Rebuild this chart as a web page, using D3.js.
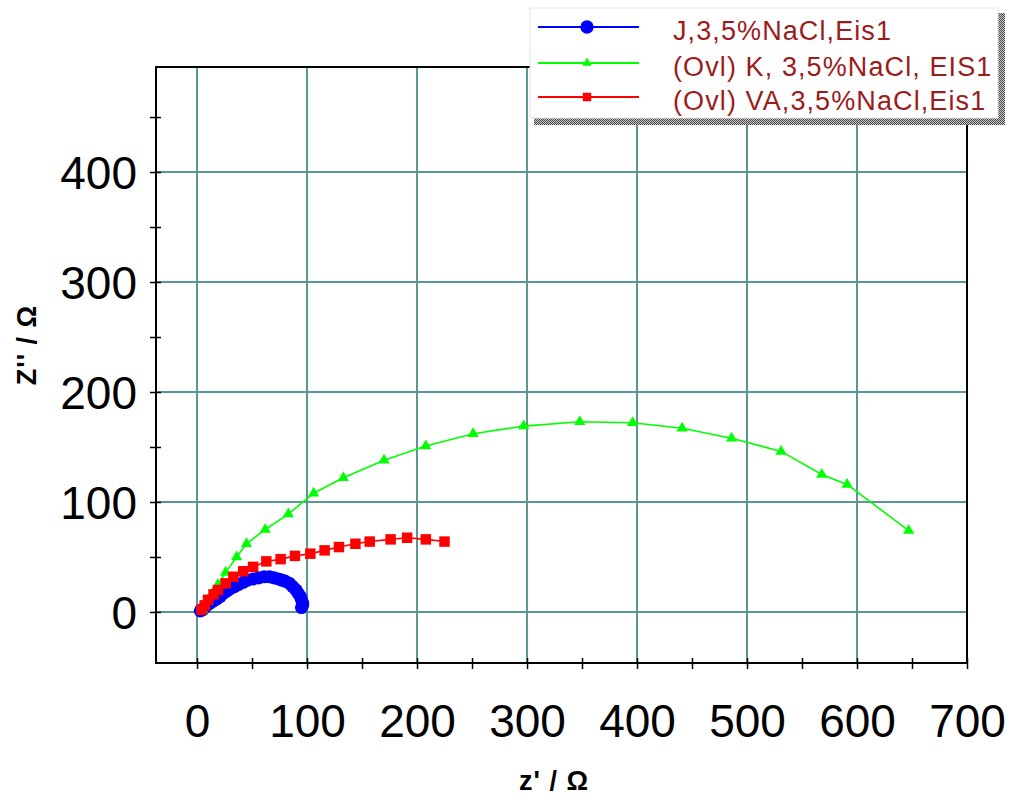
<!DOCTYPE html>
<html><head><meta charset="utf-8">
<script src="https://cdn.jsdelivr.net/npm/d3@7"></script>
<style>body{margin:0;background:#fff} svg{display:block}</style>
</head><body>
<svg id="c" width="1013" height="800"></svg>
<script>
// ---- data ----
const xTicks = [0,100,200,300,400,500,600,700];
const yTicks = [0,100,200,300,400];
const xMinor = [50,150,250,350,450,550,650];
const yMinor = [50,150,250,350,450];
const seriesNames = ["J,3,5%NaCl,Eis1", "(Ovl) K, 3,5%NaCl, EIS1", "(Ovl) VA,3,5%NaCl,Eis1"];
const seriesColors = ["#0000ff", "#00ff00", "#ff0000"];
const xTitle = "z' / \u03A9";
const yTitle = "Z'' / \u03A9";

const jX = [3,5,7,9,12,15,18,21,24,27,30,34,38,42,46,51,56,61,66,70,74,77,80,84,87,90,92,94,95,96,96,95];
const jY = [1,2,4,6,8,10,12,14,17,19,21,23,25,27,29,30,31,32,32,31,30,29,28,26,23,20,17,14,11,8,6,4];

const kX = [5,7,10,14,19,26,36,45,62,83,106,133,170,208,251,297,348,396,441,486,531,568,591,647];
const kY = [2,6,11,17,25,36,50,62,75,89,108,122,138,151,162,169,173,172,167,158,146,125,116,74];

const vaX = [4,7,10,15,19,26,33,42,51,63,76,89,103,116,129,144,157,176,191,208,225];
const vaY = [2,6,11,16,20,26,32,37,41,46,48,51,53,56,59,62,64,66,67.5,66,64];

// ---- chart ----
const svg = d3.select("#c");
const font = "'Liberation Sans', Arial, sans-serif";
const x = d3.scaleLinear().domain([-37.3, 700]).range([156, 967]);
const y = d3.scaleLinear().domain([-46.4, 495.5]).range([663, 67]);
const gridColor = "#5a9696";

// grid
svg.append("g").selectAll("line").data(xTicks.filter(d => d < 700)).join("line")
  .attr("x1", d => x(d)).attr("x2", d => x(d)).attr("y1", y.range()[0]).attr("y2", y.range()[1])
  .attr("stroke", gridColor).attr("stroke-width", 2);
svg.append("g").selectAll("line").data(yTicks).join("line")
  .attr("y1", d => y(d)).attr("y2", d => y(d)).attr("x1", x.range()[0]).attr("x2", x.range()[1])
  .attr("stroke", gridColor).attr("stroke-width", 2);

// axes
const xAxis = svg.append("g").attr("transform", `translate(0,${y.range()[0]})`)
  .call(d3.axisBottom(x).tickValues(xTicks.concat(xMinor)).tickSize(6).tickSizeOuter(0)
    .tickFormat(d => xTicks.includes(d) ? d : ""));
const yAxis = svg.append("g").attr("transform", `translate(${x.range()[0]},0)`)
  .call(d3.axisLeft(y).tickValues(yTicks.concat(yMinor)).tickSize(6).tickSizeOuter(0)
    .tickFormat(d => yTicks.includes(d) ? d : ""));
[xAxis, yAxis].forEach(a => {
  a.select(".domain").remove();
  a.selectAll(".tick line").attr("stroke", "#000").attr("stroke-width", 1.5);
  a.selectAll("text").attr("font-family", font).attr("font-size", 46).attr("fill", "#000");
});
xAxis.selectAll(".tick line").attr("y1", -5).attr("y2", 6);
xAxis.selectAll("text").attr("y", 74).attr("dy", null);
yAxis.selectAll(".tick line").attr("x1", 5).attr("x2", -6);
yAxis.selectAll("text").attr("x", -19).attr("dy", "0.36em");

// frame
svg.append("rect").attr("x", x.range()[0]).attr("y", y.range()[1])
  .attr("width", x.range()[1] - x.range()[0]).attr("height", y.range()[0] - y.range()[1])
  .attr("fill", "none").attr("stroke", "#000").attr("stroke-width", 2);

// titles
svg.append("text").attr("x", 554).attr("y", 790).attr("text-anchor", "middle")
  .attr("font-family", font).attr("font-weight", "bold").attr("font-size", 27)
  .attr("letter-spacing", 1).text(xTitle);
svg.append("text").attr("transform", "translate(36,345) rotate(-90)").attr("text-anchor", "middle")
  .attr("font-family", font).attr("font-weight", "bold").attr("font-size", 27)
  .attr("letter-spacing", 1).text(yTitle);

// series
const series = [
  {xs: jX, ys: jY, sym: d3.symbolCircle, size: 135, lsize: 140},
  {xs: kX, ys: kY, sym: d3.symbolTriangle, size: 55, lsize: 40},
  {xs: vaX, ys: vaY, sym: d3.symbolSquare, size: 110, lsize: 72}
];
const line = d3.line().x(d => x(d[0])).y(d => y(d[1]));
series.forEach((s, i) => {
  const pts = s.xs.map((v, k) => [v, s.ys[k]]);
  const g = svg.append("g");
  g.append("path").attr("d", line(pts)).attr("fill", "none")
    .attr("stroke", seriesColors[i]).attr("stroke-width", 1.6);
  g.selectAll("path.m").data(pts).join("path").attr("class", "m")
    .attr("transform", d => `translate(${x(d[0])},${y(d[1])})`)
    .attr("d", d3.symbol().type(s.sym).size(s.size)).attr("fill", seriesColors[i]);
});

// legend
const defs = svg.append("defs");
const pat = defs.append("pattern").attr("id", "hatch").attr("width", 2).attr("height", 2)
  .attr("patternUnits", "userSpaceOnUse");
pat.append("rect").attr("width", 2).attr("height", 2).attr("fill", "#c8c8c8");
pat.append("rect").attr("width", 1).attr("height", 1).attr("fill", "#4a4a4a");
pat.append("rect").attr("x", 1).attr("y", 1).attr("width", 1).attr("height", 1).attr("fill", "#4a4a4a");

const lg = svg.append("g");
lg.append("rect").attr("x", 998).attr("y", 13).attr("width", 7).attr("height", 112).attr("fill", "url(#hatch)");
lg.append("rect").attr("x", 534).attr("y", 118).attr("width", 471).attr("height", 7).attr("fill", "url(#hatch)");
lg.append("rect").attr("x", 530).attr("y", 8).attr("width", 468).attr("height", 110)
  .attr("fill", "#fff").attr("stroke", "#e4e4e4").attr("stroke-width", 1);
const rowsY = [27, 63, 97];
series.forEach((s, i) => {
  const ry = rowsY[i];
  lg.append("line").attr("x1", 538).attr("x2", 639).attr("y1", ry).attr("y2", ry)
    .attr("stroke", seriesColors[i]).attr("stroke-width", 2);
  lg.append("path").attr("transform", `translate(587,${ry})`)
    .attr("d", d3.symbol().type(s.sym).size(s.lsize)).attr("fill", seriesColors[i]);
  lg.append("text").attr("x", 673).attr("y", ry + 13)
    .attr("font-family", font).attr("font-size", 27).attr("letter-spacing", 1.1)
    .attr("fill", "#9b1c1c").text(seriesNames[i]);
});
</script>
</body></html>
